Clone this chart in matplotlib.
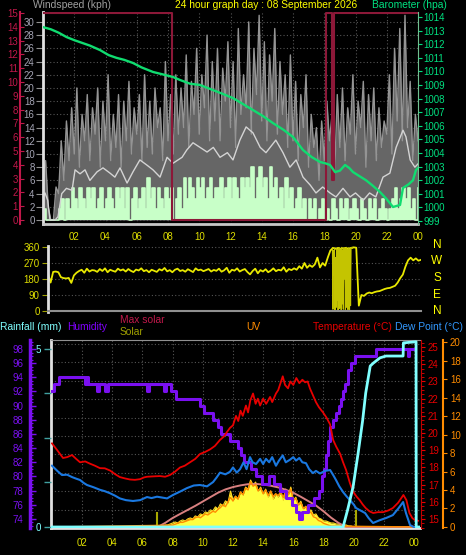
import numpy as np
import matplotlib
matplotlib.use('Agg')
import matplotlib.pyplot as plt
from matplotlib.ticker import MultipleLocator, FixedLocator, FormatStrFormatter, FuncFormatter

# ============================
# 1. Data
# ============================
hour_ticks = [2, 4, 6, 8, 10, 12, 14, 16, 18, 20, 22, 24]
hour_labels = ['02', '04', '06', '08', '10', '12', '14', '16', '18', '20', '22', '00']

# wind samples every 10 minutes, 00:00 .. 24:00
gust_kph = [7, 9, 2, 0, 0, 5,
            4, 12, 6, 15, 9, 17,
            10, 20, 8, 16, 12, 19,
            9, 17, 13, 20, 8, 18,
            12, 22, 9, 16, 11, 19,
            8, 18, 12, 21, 10, 17,
            13, 19, 9, 22, 11, 18,
            10, 20, 14, 17, 9, 24,
            12, 19, 10, 22, 13, 20,
            14, 25, 11, 21, 16, 26,
            13, 22, 17, 28, 12, 24,
            15, 26, 12, 23, 18, 27,
            14, 24, 11, 29, 16, 22,
            17, 30, 13, 26, 19, 31,
            15, 27, 12, 25, 18, 29,
            13, 24, 16, 22, 11, 25,
            12, 21, 9, 19, 14, 22,
            8, 16, 11, 14, 6, 15,
            9, 18, 12, 16, 7, 19,
            11, 20, 9, 17, 13, 22,
            10, 18, 14, 21, 8, 19,
            12, 20, 9, 17, 11, 15,
            13, 22, 10, 26, 15, 29,
            12, 31, 14, 21, 9, 16,
            12]

wind_kph = [1.6, 0, 0, 0, 0, 0,
            1.6, 3.2, 0, 3.2, 1.6, 4.8,
            3.2, 1.6, 4.8, 3.2, 1.6, 4.8,
            3.2, 4.8, 1.6, 3.2, 4.8, 1.6,
            3.2, 4.8, 3.2, 1.6, 4.8, 3.2,
            4.8, 1.6, 4.8, 0, 3.2, 4.8,
            1.6, 3.2, 4.8, 1.6, 6.4, 3.2,
            4.8, 1.6, 4.8, 3.2, 1.6, 4.8,
            3.2, 4.8, 0, 3.2, 4.8, 1.6,
            6.4, 3.2, 6.4, 4.8, 3.2, 6.4,
            4.8, 6.4, 3.2, 4.8, 6.4, 3.2,
            4.8, 4.8, 6.4, 3.2, 4.8, 6.4,
            3.2, 6.4, 4.8, 3.2, 6.4, 4.8,
            6.4, 4.8, 8.0, 3.2, 6.4, 8.0,
            4.8, 6.4, 3.2, 8.0, 4.8, 6.4,
            3.2, 4.8, 1.6, 6.4, 3.2, 4.8,
            1.6, 3.2, 4.8, 1.6, 3.2, 0,
            3.2, 1.6, 3.2, 0, 1.6, 3.2,
            0, 1.6, 0, 3.2, 1.6, 0,
            3.2, 1.6, 3.2, 0, 1.6, 3.2,
            1.6, 0, 3.2, 1.6, 0, 3.2,
            1.6, 3.2, 0, 1.6, 3.2, 1.6,
            0, 1.6, 3.2, 4.8, 1.6, 3.2,
            4.8, 3.2, 4.8, 1.6, 3.2, 0,
            4.8]

avg_hours = [0.0, 0.13, 0.3, 0.45, 0.77, 0.96, 1.2, 1.5, 1.86, 2.05, 2.37, 2.69, 3.0,
             3.46, 3.84, 4.29, 4.6, 4.93, 5.38, 5.76, 6.2, 6.66, 7.04, 7.49, 7.94,
             8.32, 8.9, 9.2, 9.6, 10.05, 10.5, 10.9, 11.33, 11.8, 12.16, 12.6, 13.0,
             13.44, 13.9, 14.27, 14.9, 15.36, 15.8, 16.2, 16.64, 17.1, 17.47, 17.9,
             18.37, 18.75, 19.2, 19.65, 20.0, 20.5, 20.9, 21.3, 21.76, 22.2, 22.6,
             23.04, 23.23, 23.5, 23.8, 24.0]
avg_kph = [3.5, 4.1, 3.0, 0, 0, 0.5, 4.0, 4.8, 4.5, 7.6, 7.0, 7.6, 6.0,
           7.3, 7.9, 7.1, 6.5, 7.9, 5.6, 7.3, 9.1, 8.3, 7.6, 6.5, 9.5,
           8.6, 9.5, 10.6, 11.7, 11.0, 10.3, 11.0, 9.5, 10.2, 9.1, 12.1, 14.1,
           13.2, 11.0, 10.2, 12.1, 10.2, 8.0, 9.1, 6.5, 5.3, 4.1, 5.0,
           4.1, 3.5, 4.8, 3.5, 4.1, 3.0, 4.1, 3.5, 6.5, 7.1, 11.0,
           13.6, 12.6, 9.1, 8.0, 8.5]

# crimson step indicator on the 0-15 scale
flag_hours = [0, 8.26, 18.1, 18.5, 18.6, 24]
flag_vals = [15, 0, 15, 2.9, 15, 15]

baro_hours = [0.0, 0.5, 1.0, 1.5, 2.0, 2.5, 3.0, 3.65, 4.2, 4.7, 5.2, 5.76, 6.3, 7.04,
              7.6, 8.32, 8.77, 9.4, 10.05, 10.5, 10.88, 11.5, 12.16, 12.8, 13.44,
              14.1, 14.72, 15.4, 16.0, 16.64, 17.2, 17.73, 18.05, 18.37, 18.69, 19.0,
              19.33, 19.6, 19.84, 20.25, 20.67, 21.1, 21.57, 22.0, 22.4, 22.85, 23.04,
              23.4, 23.68, 23.87, 24.0]
baro_hpa = [1013.26, 1013.1, 1012.85, 1012.53, 1012.3, 1012.1, 1011.9, 1011.57, 1011.2,
            1011.0, 1010.85, 1010.62, 1010.3, 1009.96, 1009.8, 1009.59, 1009.37, 1009.1,
            1009.0, 1008.8, 1008.63, 1008.35, 1008.04, 1007.6, 1007.16, 1006.7, 1006.2,
            1005.7, 1005.18, 1004.22, 1003.7, 1003.34, 1003.25, 1003.12, 1002.6, 1002.7,
            1003.12, 1002.9, 1002.6, 1002.3, 1002.0, 1001.6, 1001.13, 1000.6, 1000.03,
            1000.18, 1001.43, 1001.7, 1002.0, 1002.75, 1002.9]

# wind direction every 10 minutes
direction_deg = [210, 160, 220, 222, 218, 190,
                 185, 183, 186, 158, 200, 215,
                 225, 232, 215, 238, 222, 230,
                 228, 220, 236, 225, 240, 218,
                 232, 226, 221, 238, 228, 234,
                 222, 236, 226, 219, 233, 228,
                 240, 224, 230, 218, 232, 226,
                 220, 235, 228, 242, 223, 230,
                 218, 232, 238, 225, 230, 221,
                 235, 227, 219, 240, 229, 233,
                 224, 230, 236, 222, 231, 226,
                 238, 221, 229, 243, 215, 232,
                 227, 240, 222, 230, 236, 219,
                 206, 225, 238, 212, 230, 222,
                 235, 218, 227, 240, 224, 232,
                 228, 246, 221, 236, 230, 240,
                 232, 252, 238, 270, 243, 258,
                 248, 262, 300, 245, 270, 255,
                 300, 340, 355, 350, 355, 350,
                 352, 355, 350, 355, 358, 356,
                 30, 90, 85, 98, 104, 100,
                 106, 110, 112, 118, 124, 128,
                 130, 136, 142, 160, 185, 205,
                 250, 285, 300, 285, 296, 283,
                 288]
# erratic part 18:18 - 19:36, every 2 minutes
swing_start = 18.3
swing_deg = [350, 10, 340, 200, 355, 5, 300, 20, 350, 60, 345, 0, 330, 355, 15, 350,
             250, 5, 358, 40, 340, 10, 355, 180, 350, 5, 320, 358, 20, 345, 8, 355,
             300, 0, 350, 30, 355, 355, 358, 352]

hum_hours = [0, 0.1, 0.45, 2.2, 2.3, 2.4, 3.0, 3.1, 3.5, 3.7, 6.3, 6.45, 7.45, 7.55,
             7.9, 8.25, 9.8, 10.1, 10.7, 11.0, 11.2, 11.8, 12.3, 12.5, 12.7, 13.2,
             13.5, 13.9, 14.4, 14.7, 15.1, 15.5, 15.9, 16.2, 16.4, 16.6, 17.0, 17.4,
             17.7, 17.9, 18.05, 18.2, 18.3, 18.45, 18.6, 18.8, 19.0, 19.15, 19.3,
             19.45, 19.6, 19.8, 20.1, 21.5, 23.6, 23.7, 24.1]
hum_pct = [92, 93, 94, 93, 94, 93, 92, 93, 92, 93, 92, 93, 92, 93,
           92, 91, 90, 89, 88, 87, 86, 85, 84, 83, 82, 81,
           80, 79, 80, 79, 78, 77, 76, 75, 74, 75, 76, 77,
           78, 80, 81, 83, 85, 87, 88, 89, 90, 91, 92,
           93, 95, 96, 97, 98, 97, 98, 98]

temp_hours = [0.0, 0.35, 0.73, 1.0, 1.33, 1.6, 1.86, 2.2, 2.52, 2.85, 3.18, 3.5, 3.85,
              4.2, 4.5, 4.85, 5.17, 5.5, 5.84, 6.1, 6.3, 6.7, 7.16, 7.5, 7.82, 8.15,
              8.49, 8.8, 9.15, 9.5, 9.81, 10.15, 10.48, 10.8, 11.14, 11.4, 11.6, 11.8,
              12.0, 12.2, 12.35, 12.5, 12.65, 12.86, 13.0, 13.15, 13.33, 13.5, 13.65,
              13.8, 14.0, 14.2, 14.46, 14.6, 14.85, 15.0, 15.15, 15.3, 15.45, 15.65,
              15.8, 16.0, 16.2, 16.4, 16.6, 16.78, 16.95, 17.1, 17.3, 17.5, 17.7,
              17.97, 18.2, 18.44, 18.64, 18.85, 19.1, 19.3, 19.5, 19.75, 19.96, 20.2,
              20.4, 20.6, 20.8, 21.05, 21.3, 21.6, 21.95, 22.3, 22.6, 22.95, 23.3,
              23.5, 23.7, 23.9, 24.07, 24.27]
temp_c = [19.4, 19.0, 18.55, 18.6, 18.72, 18.5, 18.3, 18.35, 18.22, 18.1, 17.96, 17.95,
          17.82, 17.6, 17.44, 17.36, 17.3, 17.28, 17.32, 17.42, 17.46, 17.48, 17.5,
          17.46, 17.56, 17.75, 18.0, 18.1, 18.3, 18.5, 18.78, 18.9, 19.05, 19.25, 19.6,
          19.8, 20.06, 20.3, 20.45, 21.0, 20.7, 21.3, 21.0, 21.6, 21.2, 21.9, 22.3,
          21.7, 22.0, 21.6, 22.0, 21.7, 22.1, 21.8, 22.3, 22.5, 22.9, 23.3, 22.8, 22.6,
          23.0, 22.8, 23.2, 22.9, 23.1, 22.95, 23.0, 22.6, 22.2, 21.8, 21.5, 21.2,
          20.9, 20.5, 19.6, 19.2, 18.8, 18.3, 17.85, 17.1, 16.6, 16.3, 16.1, 15.85,
          15.64, 15.45, 15.35, 15.4, 15.4, 15.5, 15.64, 15.95, 16.4, 16.1, 15.35,
          15.05, 14.94, 14.9]

dew_hours = [0.0, 0.35, 0.66, 1.0, 1.33, 1.6, 1.86, 2.1, 2.32, 2.75, 3.18, 3.5, 3.85,
             4.2, 4.5, 4.9, 5.37, 5.84, 6.3, 6.6, 6.96, 7.3, 7.63, 8.02, 8.5, 8.95,
             9.4, 9.81, 10.28, 10.68, 10.9, 11.14, 11.5, 11.8, 12.0, 12.25, 12.47,
             12.7, 12.9, 13.13, 13.3, 13.53, 13.8, 14.0, 14.19, 14.4, 14.6, 14.85,
             15.05, 15.3, 15.5, 15.78, 16.0, 16.18, 16.4, 16.6, 16.84, 17.05, 17.3,
             17.5, 17.77, 18.1, 18.44, 18.65, 18.83, 19.05, 19.3, 19.55, 19.76, 20.0,
             20.16, 20.45, 20.76, 21.0, 21.29, 21.5, 21.75, 22.15, 22.6, 22.95, 23.28,
             23.47, 23.74, 24.07]
dew_c = [18.1, 17.8, 17.56, 17.58, 17.44, 17.35, 17.27, 17.1, 16.98, 16.85, 16.7, 16.62,
         16.5, 16.35, 16.2, 16.1, 16.05, 16.1, 16.28, 16.22, 16.3, 16.25, 16.2, 16.4,
         16.6, 16.8, 16.95, 16.98, 16.9, 17.15, 17.4, 17.7, 17.6, 17.75, 18.0, 17.7,
         17.9, 18.3, 17.9, 18.6, 18.3, 18.2, 18.5, 18.2, 18.5, 18.3, 18.6, 18.1, 18.4,
         18.7, 18.3, 18.45, 18.6, 18.4, 18.55, 18.3, 18.25, 17.9, 17.67, 17.8, 17.65,
         17.8, 17.85, 17.55, 17.27, 16.9, 16.57, 16.3, 16.1, 15.85, 15.64, 15.5, 15.35,
         15.05, 14.77, 14.85, 14.94, 15.06, 15.23, 15.6, 15.99, 15.35, 14.65, 14.5]

rain_hours = [0, 19.3, 19.6, 19.96, 20.3, 20.6, 20.8, 21.1, 21.3, 21.75, 22.15, 23.28,
              23.3, 24.14, 24.15, 24.4]
rain_mm = [0, 0, 0.48, 1.12, 2.08, 3.0, 3.76, 4.52, 4.6, 4.75, 4.8, 4.8,
           5.17, 5.2, 0, 0]

# solar radiation every 10 minutes from 07:00 to 20:00
solar_start = 7.0
solar_w = [0, 15, 15, 30, 30, 45,
           60, 75, 60, 90, 105, 90,
           120, 135, 120, 165, 150, 195,
           180, 225, 210, 255, 240, 300,
           270, 345, 315, 390, 360, 535,
           400, 460, 420, 520, 475, 595,
           565, 700, 625, 670, 535, 595,
           490, 565, 445, 535, 415, 490,
           445, 520, 400, 565, 475, 595,
           400, 445, 325, 385, 270, 310,
           225, 255, 180, 195, 135, 120,
           90, 90, 75, 60, 60, 45,
           45, 30, 30, 30, 15, 15,
           0]
maxsolar_hours = [0, 7.0, 7.5, 8.0, 8.5, 9.0, 9.5, 10.0, 10.5, 11.0, 11.5, 12.0, 12.5,
                  13.0, 13.5, 14.0, 14.5, 15.0, 15.5, 16.0, 16.5, 17.0, 17.5, 18.0,
                  18.5, 19.0, 19.5, 24.4]
maxsolar_w = [0, 0, 60, 134, 195, 255, 315, 380, 445, 510, 560, 595, 620, 638, 642,
              632, 615, 590, 555, 510, 450, 385, 320, 235, 140, 60, 0, 0]
spike_hours = [6.95, 20.15]
spike_w = [225, 255]

# UV index every 10 minutes from 08:00 to 18:30
uv_start = 8.0
uv_index = [0.2, 0.3, 0.4, 0.5, 0.5, 0.6,
            0.7, 0.8, 0.8, 1.0, 1.1, 1.0,
            1.2, 1.4, 1.3, 1.5, 1.7, 1.6,
            1.9, 2.1, 2.4, 2.2, 2.7, 3.2,
            2.8, 3.3, 3.0, 3.8, 3.5, 4.2,
            4.0, 4.9, 4.4, 4.6, 3.9, 4.2,
            3.6, 4.0, 3.4, 3.9, 3.3, 3.6,
            3.4, 3.8, 3.2, 3.9, 3.5, 4.1,
            2.9, 3.1, 2.4, 2.6, 2.0, 2.2,
            1.5, 1.6, 1.1, 1.0, 0.7, 0.6,
            0.4, 0.3, 0.2, 0.1]

# ============================
# 2. Styling helpers
# ============================
W, H = 466, 555
PT = 0.72  # points per pixel at dpi 100
BG = 'black'
YELLOW = '#dede00'
GRID = '#555555'
CRIMSON = '#c0184a'
GREEN = '#00e080'
PURPLE = '#7a10f0'
RED = '#e80000'
BLUE = '#1a78e0'
CYAN = '#80ffff'
ORANGE = '#ff8c00'
TICK_FS = 7
TITLE_FS = 7.4


def rect(l, t, r, b):
    return [l / W, 1 - b / H, (r - l) / W, (b - t) / H]


def ftext(x, y, s, color, ha='left', size=TITLE_FS):
    fig.text(x / W, 1 - y / H, s, color=color, ha=ha, va='center', fontsize=size)


def only_spine(ax, name):
    for k, sp in ax.spines.items():
        sp.set_visible(k == name)


plt.rcParams['font.family'] = ['Liberation Sans', 'DejaVu Sans']
fig = plt.figure(figsize=(W / 100, H / 100), dpi=100, facecolor=BG)

t10 = np.arange(len(gust_kph)) / 6.0

# ============================
# 3. Wind speed / barometer panel
# ============================
ax_w = fig.add_axes(rect(43, 12, 418, 224), facecolor=BG)
ax_w.set_xlim(0, 24)
ax_w.set_ylim(-0.6, 31.5)
ax_w.yaxis.set_major_locator(MultipleLocator(2))
ax_w.yaxis.set_major_formatter(FormatStrFormatter('%d'))
ax_w.set_xticks(hour_ticks)
ax_w.set_xticklabels(hour_labels)
ax_w.tick_params(axis='x', length=0, pad=6, labelcolor=YELLOW, labelsize=TICK_FS)
ax_w.tick_params(axis='y', length=5, color='#909090', labelcolor='#a4a4b4', labelsize=TICK_FS, pad=1)
ax_w.grid(True, color=GRID, linestyle=(0, (1, 2)), linewidth=0.8)
ax_w.set_axisbelow(True)
only_spine(ax_w, 'left')
ax_w.spines['bottom'].set_visible(True)
ax_w.spines['left'].set_color('#e0e0e0')
ax_w.spines['left'].set_linewidth(2)
ax_w.spines['bottom'].set_color('#c8c8c8')
ax_w.spines['bottom'].set_linewidth(2)

ax_w.fill_between(t10, 0, gust_kph, color='#666666', lw=0)
ax_w.plot(t10, gust_kph, color='#949494', lw=1.0)
ax_w.fill_between(t10, 0, wind_kph, step='post', color='#c8ffc8', lw=0)
ax_w.step(t10, wind_kph, where='post', color='#c8ffc8', lw=1.2)
ax_w.plot(avg_hours, avg_kph, color='#d4d4d4', lw=1.0)

ax_c = ax_w.twinx()
ax_c.set_ylim(-0.29, 15.07)
ax_c.yaxis.tick_left()
only_spine(ax_c, 'left')
ax_c.spines['left'].set_position(('outward', 23 * PT))
ax_c.spines['left'].set_color(CRIMSON)
ax_c.spines['left'].set_linewidth(1.5)
ax_c.yaxis.set_major_locator(MultipleLocator(1))
ax_c.yaxis.set_major_formatter(FormatStrFormatter('%d'))
ax_c.tick_params(axis='y', direction='in', length=3, color=CRIMSON, labelcolor=CRIMSON,
                 labelsize=TICK_FS, pad=1.5)
ax_c.step(flag_hours, flag_vals, where='post', color='#8c1838', lw=1.5)

ax_b = ax_w.twinx()
ax_b.set_ylim(998.78, 1014.37)
only_spine(ax_b, 'right')
ax_b.spines['right'].set_color('#70c090')
ax_b.yaxis.set_major_locator(MultipleLocator(1))
ax_b.yaxis.set_major_formatter(FormatStrFormatter('%d'))
ax_b.tick_params(axis='y', length=3, color=GREEN, labelcolor=GREEN, labelsize=TICK_FS, pad=1)
ax_b.plot(baro_hours, baro_hpa, color='#10dc70', lw=1.7)

ftext(33, 5, 'Windspeed (kph)', '#a0a0a0')
ftext(266, 5, '24 hour graph day : 08 September 2026', '#ffff00', ha='center')
ftext(372, 5, 'Barometer (hpa)', GREEN)

# ============================
# 4. Wind direction panel
# ============================
ax_d = fig.add_axes(rect(48, 246, 421, 312), facecolor=BG)
ax_d.set_xlim(0, 24)
ax_d.set_ylim(-5.6, 365.6)
ax_d.set_yticks([0, 90, 180, 270, 360])
ax_d.set_xticks([])
ax_d.tick_params(axis='y', length=4, color='#a0a000', labelcolor=YELLOW, labelsize=TICK_FS, pad=2)
ax_d.grid(axis='y', color=GRID, linestyle=(0, (1, 2)), linewidth=0.8)
ax_d.set_axisbelow(True)
only_spine(ax_d, 'left')
ax_d.spines['left'].set_color('#e0e0e0')
ax_d.spines['left'].set_linewidth(2)
ax_d.spines['bottom'].set_visible(True)
ax_d.spines['bottom'].set_position(('data', 0))
ax_d.spines['bottom'].set_color('#909090')
ax_d.spines['bottom'].set_linewidth(1.5)

ax_d.plot(t10, direction_deg, color='#e8e800', lw=1.3)
swing_hours = swing_start + np.arange(len(swing_deg)) / 30.0
ax_d.plot(swing_hours, swing_deg, color='#c4c400', lw=0.8)

for letter, yy in zip(['N', 'W', 'S', 'E', 'N'], [245, 261, 278, 295, 311]):
    ftext(437, yy, letter, '#ffff00', ha='center', size=8.5)

# ============================
# 5. Temperature / humidity / rain / solar panel
# ============================
ax_g = fig.add_axes(rect(51, 340, 420, 528), facecolor=BG)
ax_g.set_xlim(-0.066, 24.4)
ax_g.set_ylim(0, 10.22)
ax_g.yaxis.set_major_locator(MultipleLocator(1))
ax_g.set_xticks(hour_ticks)
ax_g.set_xticklabels(hour_labels)
ax_g.tick_params(axis='x', length=0, pad=7, labelcolor=YELLOW, labelsize=TICK_FS)
ax_g.tick_params(axis='y', left=False, labelleft=False)
ax_g.grid(True, color=GRID, linestyle=(0, (1, 2)), linewidth=0.8)
ax_g.set_axisbelow(True)
for k in ['left', 'bottom']:
    ax_g.spines[k].set_color('#e0e0e0')
    ax_g.spines[k].set_linewidth(2)
ax_g.spines['top'].set_color('#909090')
ax_g.spines['right'].set_visible(False)

# solar and max solar on a hidden scale
ax_s = ax_g.twinx()
ax_s.set_ylim(-15, 2786)
ax_s.set_yticks([])
only_spine(ax_s, None)
sol_t = np.concatenate([[0], solar_start + np.arange(len(solar_w)) / 6.0, [24.4]])
sol_v = np.concatenate([[0], solar_w, [0]])
ax_s.fill_between(sol_t, 0, sol_v, color='#ffff40', lw=0)
ax_s.plot(sol_t, sol_v, color='#ffd820', lw=0.8)
ax_s.vlines(spike_hours, 0, spike_w, color='#a8a800', lw=1.5)

# UV on the far right
ax_u = ax_g.twinx()
ax_u.set_ylim(-0.109, 20.22)
only_spine(ax_u, 'right')
ax_u.spines['right'].set_position(('outward', 23 * PT))
ax_u.spines['right'].set_color(ORANGE)
ax_u.spines['right'].set_linewidth(1.5)
ax_u.yaxis.set_major_locator(MultipleLocator(2))
ax_u.yaxis.set_major_formatter(FormatStrFormatter('%d'))
ax_u.tick_params(axis='y', length=3, color=ORANGE, labelcolor=ORANGE, labelsize=TICK_FS, pad=2)
uv_t = np.concatenate([[0], uv_start + np.arange(len(uv_index)) / 6.0, [24.4]])
uv_v = np.concatenate([[0], uv_index, [0]])
ax_u.plot(uv_t, uv_v, color=ORANGE, lw=1.0)

ax_s.plot(maxsolar_hours, maxsolar_w, color='#d88080', lw=1.4)

# humidity, outer left
ax_h = ax_g.twinx()
ax_h.yaxis.tick_left()
ax_h.set_ylim(72.72, 99.27)
only_spine(ax_h, 'left')
ax_h.spines['left'].set_position(('outward', 21 * PT))
ax_h.spines['left'].set_color(PURPLE)
ax_h.spines['left'].set_linewidth(2.5)
ax_h.yaxis.set_major_locator(MultipleLocator(2))
ax_h.yaxis.set_minor_locator(MultipleLocator(0.5))
ax_h.yaxis.set_major_formatter(FormatStrFormatter('%d'))
ax_h.tick_params(axis='y', which='major', direction='in', length=4, width=1, color=PURPLE,
                 labelcolor=PURPLE, labelsize=TICK_FS, pad=5)
ax_h.tick_params(axis='y', which='minor', direction='in', length=2.5, width=0.8, color=PURPLE)
ax_h.step(hum_hours, hum_pct, where='post', color=PURPLE, lw=2.2)

# temperature and dew point, right
ax_t = ax_g.twinx()
ax_t.set_ylim(14.48, 25.41)
only_spine(ax_t, 'right')
ax_t.spines['right'].set_position(('outward', 1 * PT))
ax_t.spines['right'].set_color('#c00000')
ax_t.yaxis.set_major_locator(MultipleLocator(1))
ax_t.yaxis.set_minor_locator(MultipleLocator(0.25))
ax_t.yaxis.set_major_formatter(FormatStrFormatter('%d'))
ax_t.tick_params(axis='y', which='major', length=3, color=RED, labelcolor=RED, labelsize=TICK_FS, pad=2)
ax_t.tick_params(axis='y', which='minor', length=2, color=RED)
ax_t.plot(temp_hours, temp_c, color=RED, lw=1.3)
ax_t.plot(dew_hours, dew_c, color=BLUE, lw=1.5)

# rainfall, inner left
ax_r = ax_g.twinx()
ax_r.yaxis.tick_left()
ax_r.set_ylim(-0.028, 5.25)
only_spine(ax_r, None)
ax_r.yaxis.set_major_locator(FixedLocator([0, 1.25, 2.5, 3.75, 5]))
ax_r.yaxis.set_major_formatter(FuncFormatter(lambda v, p: '%d' % v if v in (0, 5) else ''))
ax_r.tick_params(axis='y', direction='out', length=5, width=1, color='#40a0a0',
                 labelcolor=CYAN, labelsize=TICK_FS, pad=2)
ax_r.plot(rain_hours, rain_mm, color=CYAN, lw=2.0)

ftext(0, 327, 'Rainfall (mm)', CYAN)
ftext(67, 327, 'Humidity', '#8000ff')
ftext(120, 320, 'Max solar', CRIMSON)
ftext(120, 332, 'Solar', '#a0a000')
ftext(246, 327, 'UV', ORANGE)
ftext(313, 327, 'Temperature (\u00b0C)', RED)
ftext(395, 327, 'Dew Point (\u00b0C)', '#3399ff')

plt.savefig('out.png', dpi=100, facecolor=BG)
